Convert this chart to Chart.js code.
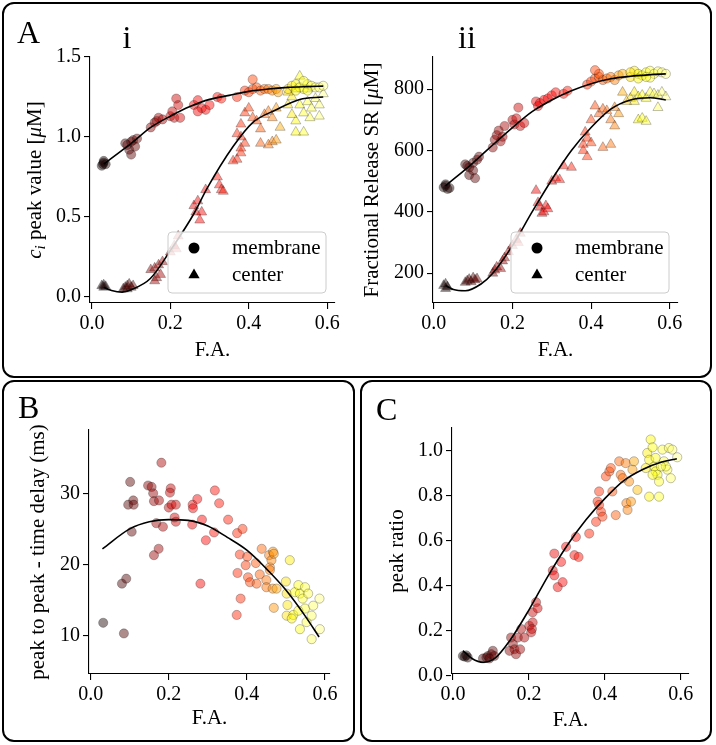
<!DOCTYPE html>
<html>
<head>
<meta charset="utf-8">
<script src="https://cdn.jsdelivr.net/npm/chart.js@4.4.1/dist/chart.umd.min.js"></script>
<style>
  html, body { margin: 0; padding: 0; background: #fff; }
  #fig { position: relative; width: 716px; height: 745px; overflow: hidden; background: #fff; }
  .box { position: absolute; box-sizing: border-box; border: 2.5px solid #000; border-radius: 12px; }
  canvas { position: absolute; }
</style>
</head>
<body>
<div id="fig">
  <div class="box" style="left:2px;top:2px;width:710px;height:376px"></div>
  <div class="box" style="left:2px;top:380px;width:353px;height:362px"></div>
  <div class="box" style="left:360px;top:380px;width:352px;height:362px"></div>
  <canvas id="chartAi" width="350" height="368" style="left:6px;top:6px"></canvas>
  <canvas id="chartAii" width="352" height="368" style="left:356px;top:6px"></canvas>
  <canvas id="chartB" width="346" height="353" style="left:6px;top:385px"></canvas>
  <canvas id="chartC" width="344" height="353" style="left:364px;top:385px"></canvas>
</div>
<script>
/* ---------------- data ---------------- */
const xTicks = [0.0, 0.2, 0.4, 0.6];
const yTicksAi = [0.0, 0.5, 1.0, 1.5];
const yTicksAii = [200, 400, 600, 800];
const yTicksB = [10, 20, 30];
const yTicksC = [0.0, 0.2, 0.4, 0.6, 0.8, 1.0];

// A i : c_i peak value, membrane (circles) / center (triangles)
const memAi = [
  [0.025,0.82],[0.03,0.84],[0.035,0.83],[0.03,0.85],[0.028,0.83],
  [0.085,0.96],[0.09,0.95],[0.095,0.92],[0.1,0.97],[0.105,0.98],[0.1,0.89],[0.11,0.94],[0.115,0.99],
  [0.15,1.06],[0.16,1.09],[0.165,1.1],[0.17,1.12],[0.18,1.11],[0.2,1.13],[0.205,1.16],[0.21,1.12],[0.22,1.2],[0.215,1.24],[0.225,1.12],
  [0.26,1.2],[0.27,1.23],[0.28,1.18],[0.29,1.17],[0.3,1.2],[0.27,1.16],
  [0.32,1.25],[0.33,1.24],[0.37,1.25],
  [0.39,1.29],[0.4,1.28],[0.41,1.3],[0.42,1.31],[0.43,1.29],[0.44,1.3],[0.45,1.3],[0.46,1.29],[0.47,1.3],[0.475,1.28],[0.41,1.36],
  [0.5,1.3],[0.51,1.32],[0.52,1.33],[0.53,1.31],[0.54,1.3],[0.55,1.33],[0.56,1.32],[0.57,1.31],[0.58,1.31],[0.59,1.32],[0.52,1.29],[0.55,1.29],[0.54,1.35]
];
const cenAi = [
  [0.025,0.07],[0.03,0.06],[0.035,0.065],[0.03,0.075],
  [0.08,0.05],[0.085,0.06],[0.09,0.07],[0.095,0.08],[0.1,0.06],[0.105,0.07],[0.09,0.05],
  [0.15,0.17],[0.16,0.18],[0.165,0.12],[0.17,0.2],[0.175,0.14],[0.16,0.1],[0.18,0.22],
  [0.2,0.28],[0.21,0.32],[0.22,0.38],[0.215,0.3],
  [0.26,0.57],[0.265,0.53],[0.27,0.6],[0.275,0.48],[0.28,0.53],[0.29,0.67],
  [0.32,0.75],[0.325,0.7],[0.33,0.67],[0.335,0.66],
  [0.37,0.86],[0.38,0.9],[0.38,0.93],[0.39,0.96],[0.38,1.0],[0.37,1.02],[0.36,0.85],
  [0.38,1.08],[0.39,1.15],[0.4,1.18],[0.41,1.12],
  [0.42,1.1],[0.43,1.05],[0.44,1.14],[0.45,1.16],[0.46,1.12],[0.47,1.18],[0.46,0.97],[0.47,0.98],[0.45,0.95],[0.43,0.96],[0.48,1.06],
  [0.5,1.2],[0.51,1.25],[0.52,1.3],[0.53,1.38],[0.53,1.2],[0.54,1.15],[0.55,1.22],[0.56,1.18],[0.57,1.24],[0.58,1.2],
  [0.58,1.13],[0.52,1.03],[0.54,1.03],[0.5,1.28],[0.55,1.3],[0.59,1.27],[0.52,1.1],[0.556,1.12],[0.51,1.14]
];
const fitMemAiX = [0.03, 0.046, 0.1, 0.15, 0.2, 0.25, 0.3, 0.35, 0.4, 0.45, 0.5, 0.55, 0.59];
const fitMemAiY = [0.83, 0.86, 0.96, 1.06, 1.13, 1.19, 1.235, 1.26, 1.285, 1.3, 1.31, 1.315, 1.318];
const fitCenAiX = [0.03, 0.05, 0.077, 0.1, 0.149, 0.2, 0.26, 0.294, 0.36, 0.41, 0.47, 0.53, 0.59];
const fitCenAiY = [0.06, 0.04, 0.03, 0.045, 0.115, 0.29, 0.52, 0.68, 0.94, 1.09, 1.17, 1.234, 1.25];

// A ii : fractional release SR
const memAii = [
  [0.025,480],[0.03,490],[0.035,475],[0.03,485],[0.04,478],
  [0.08,555],[0.085,550],[0.09,545],[0.09,520],[0.1,560],[0.1,535],[0.105,510],[0.11,570],[0.115,580],
  [0.15,610],[0.155,635],[0.16,650],[0.165,665],[0.17,630],[0.175,645],[0.18,680],[0.2,700],[0.205,685],[0.21,705],[0.215,740],[0.22,680],[0.23,690],
  [0.26,760],[0.265,745],[0.27,755],[0.28,765],[0.29,770],
  [0.3,780],[0.31,790],[0.33,785],[0.34,795],
  [0.39,815],[0.4,825],[0.41,835],[0.42,840],[0.43,830],[0.44,835],[0.45,840],[0.46,830],[0.47,845],[0.48,850],[0.42,850],[0.41,862],
  [0.5,840],[0.51,860],[0.52,850],[0.53,845],[0.54,855],[0.55,860],[0.56,850],[0.57,858],[0.58,855],[0.59,850],[0.52,835],[0.55,838],[0.5,855],[0.54,840]
];
const cenAii = [
  [0.025,160],[0.03,150],[0.035,155],[0.03,165],
  [0.08,170],[0.085,175],[0.09,180],[0.095,172],[0.1,185],[0.105,178],[0.11,182],
  [0.15,200],[0.155,210],[0.16,220],[0.17,215],[0.175,240],[0.18,250],
  [0.19,270],[0.2,290],[0.21,310],[0.22,330],[0.215,300],
  [0.26,470],[0.265,430],[0.27,415],[0.275,395],[0.28,400],[0.285,420],[0.29,410],
  [0.3,500],[0.31,510],[0.32,505],[0.33,550],[0.35,545],
  [0.38,600],[0.38,620],[0.39,640],[0.385,660],[0.4,625],[0.39,580],
  [0.4,700],[0.41,745],[0.42,720],[0.43,735],[0.44,730],[0.45,700],[0.46,680],[0.45,620],[0.43,610],[0.47,720],[0.46,740],[0.48,790],
  [0.5,770],[0.51,790],[0.52,775],[0.53,780],[0.54,770],[0.55,790],[0.56,785],[0.57,780],[0.58,790],[0.59,775],
  [0.52,700],[0.53,705],[0.54,695],[0.51,760],[0.57,740],[0.49,760]
];
const fitMemAiiX = [0.03, 0.1, 0.136, 0.2, 0.25, 0.3, 0.35, 0.4, 0.45, 0.5, 0.55, 0.59];
const fitMemAiiY = [485, 560, 602, 675, 727, 765, 795, 818, 834, 842, 847, 850];
const fitCenAiiX = [0.03, 0.05, 0.08, 0.12, 0.15, 0.2, 0.25, 0.3, 0.35, 0.4, 0.45, 0.5, 0.55, 0.59];
const fitCenAiiY = [160, 147, 143, 165, 200, 290, 400, 505, 600, 675, 735, 765, 772, 765];

// B : peak to peak time delay (ms)
const ptsB = [
  [0.032,11.8],[0.085,10.3],[0.08,17.3],[0.091,18.0],[0.101,31.6],[0.096,28.4],[0.109,29.0],[0.11,28.4],[0.105,24.6],
  [0.147,31.1],[0.156,30.9],[0.16,30.0],[0.162,28.9],[0.175,29.0],[0.181,34.3],[0.168,25.8],[0.185,25.3],[0.162,21.3],[0.174,22.2],
  [0.205,30.7],[0.203,30.1],[0.2,28.0],[0.207,28.4],[0.218,28.4],[0.215,26.6],[0.218,26.0],
  [0.261,28.4],[0.262,27.9],[0.273,29.2],[0.26,25.6],[0.285,26.3],[0.295,23.4],[0.281,17.3],
  [0.318,30.4],[0.329,28.6],[0.316,24.5],[0.352,26.3],
  [0.375,24.4],[0.389,25.0],[0.382,21.4],[0.376,18.8],[0.384,15.2],[0.374,12.9],
  [0.401,21.1],[0.397,19.9],[0.403,18.2],[0.408,17.5],[0.423,20.2],[0.438,22.2],[0.433,18.6],[0.425,17.3],
  [0.45,17.8],[0.457,21.3],[0.459,19.6],[0.463,20.6],[0.467,21.8],[0.469,21.5],[0.45,16.8],[0.466,16.6],[0.476,16.6],[0.469,13.9],[0.459,19.2],
  [0.5,17.6],[0.51,20.6],[0.502,15.9],[0.504,14.3],[0.502,12.8],[0.519,12.9],[0.523,16.1],[0.532,17.1],[0.536,15.9],
  [0.549,16.8],[0.543,15.2],[0.557,15.9],[0.549,13.8],[0.553,11.9],[0.566,12.8],[0.536,10.9],[0.566,9.5],[0.587,10.9],
  [0.586,15.2],[0.57,14.2],[0.515,12.4],[0.532,13.5]
];
const fitBX = [0.03, 0.1, 0.15, 0.2, 0.25, 0.3, 0.35, 0.4, 0.45, 0.5, 0.55, 0.585];
const fitBY = [22.2, 25.0, 26.0, 26.3, 26.2, 25.4, 23.8, 22.0, 19.4, 16.4, 12.7, 9.8];

// C : peak ratio
const ptsC = [
  [0.031,0.083],[0.035,0.089],[0.039,0.079],[0.026,0.086],
  [0.079,0.075],[0.088,0.079],[0.092,0.086],[0.101,0.094],[0.105,0.109],[0.096,0.075],[0.109,0.086],
  [0.153,0.168],[0.158,0.139],[0.162,0.116],[0.166,0.094],[0.171,0.168],[0.177,0.116],[0.18,0.206],[0.149,0.109],[0.188,0.168],
  [0.201,0.22],[0.206,0.191],[0.21,0.235],[0.21,0.28],[0.219,0.325],[0.223,0.298],[0.208,0.206],
  [0.267,0.541],[0.263,0.466],[0.267,0.444],[0.276,0.392],[0.289,0.414],[0.285,0.504],[0.298,0.571],[0.32,0.534],[0.324,0.615],[0.331,0.526],[0.359,0.63],
  [0.377,0.682],[0.381,0.772],[0.385,0.817],[0.39,0.727],[0.394,0.705],[0.385,0.757],
  [0.403,0.884],[0.412,0.906],[0.416,0.921],[0.429,0.712],[0.438,0.951],[0.442,0.891],[0.455,0.943],[0.457,0.765],[0.46,0.735],
  [0.469,0.772],[0.473,0.914],[0.477,0.951],[0.486,0.824],[0.464,0.861],[0.42,0.817],[0.447,0.876],
  [0.512,0.988],[0.517,0.958],[0.521,1.048],[0.526,1.013],[0.53,0.928],[0.534,0.906],[0.539,0.891],[0.543,0.861],[0.517,0.794],[0.543,0.794],
  [0.552,1.003],[0.556,0.951],[0.565,0.914],[0.569,1.01],[0.574,0.876],[0.578,1.003],[0.591,0.969],[0.508,0.921],[0.526,0.891],[0.561,0.928],[0.534,0.966],[0.548,0.928]
];
const fitCX = [0.026, 0.05, 0.08, 0.11, 0.15, 0.2, 0.25, 0.3, 0.35, 0.4, 0.45, 0.5, 0.55, 0.59];
const fitCY = [0.11, 0.075, 0.058, 0.075, 0.155, 0.29, 0.44, 0.575, 0.69, 0.785, 0.865, 0.915, 0.948, 0.962];

/* ---------------- colour map (hot, by F.A.) ---------------- */
const cmapX = [0.03, 0.1, 0.17, 0.22, 0.3, 0.38, 0.42, 0.46, 0.5, 0.55, 0.59];
const cmapT = [0.02, 0.12, 0.22, 0.3, 0.37, 0.42, 0.48, 0.55, 0.7, 0.8, 0.88];

function hot(t) {
  const c = v => Math.max(0, Math.min(1, v));
  const r = c(0.0416 + t / 0.365079 * 0.9584);
  const g = c((t - 0.365079) / (0.746032 - 0.365079));
  const b = c((t - 0.746032) / (1 - 0.746032));
  return [r, g, b].map(v => Math.round(v * 255));
}
function tFor(x) {
  if (x <= cmapX[0]) return cmapT[0];
  for (let i = 1; i < cmapX.length; i++) {
    if (x <= cmapX[i]) {
      const f = (x - cmapX[i - 1]) / (cmapX[i] - cmapX[i - 1]);
      return cmapT[i - 1] + f * (cmapT[i] - cmapT[i - 1]);
    }
  }
  return cmapT[cmapT.length - 1];
}
function fillFor(x) {
  const [r, g, b] = hot(tFor(x));
  return `rgba(${r},${g},${b},0.45)`;
}

/* ---------------- helpers ---------------- */
const FONT = "'Liberation Serif', 'DejaVu Serif', serif";
Chart.defaults.font.family = FONT;
Chart.defaults.color = '#000';

function scatterSet(points, style, radius) {
  return {
    type: 'scatter',
    data: points.map(p => ({ x: p[0], y: p[1] })),
    pointStyle: style,
    pointRadius: radius,
    backgroundColor: points.map(p => fillFor(p[0])),
    borderColor: 'rgba(0,0,0,0.35)',
    borderWidth: 0.7,
    clip: false,
    order: 1
  };
}
function fitSet(xs, ys) {
  return {
    type: 'line',
    data: xs.map((x, i) => ({ x: x, y: ys[i] })),
    borderColor: '#000',
    borderWidth: 1.6,
    pointRadius: 0,
    fill: false,
    cubicInterpolationMode: 'monotone',
    clip: false,
    order: 0
  };
}

function axis(o) {
  return {
    type: 'linear',
    min: o.min,
    max: o.max,
    afterBuildTicks: s => { s.ticks = o.ticks.map(v => ({ value: v })); },
    afterFit: s => { if (s.isHorizontal()) s.height = o.size; else s.width = o.size; },
    ticks: { font: { size: 20 }, padding: 3, autoSkip: false, maxRotation: 0, callback: o.fmt },
    grid: { drawOnChartArea: false, drawTicks: true, tickLength: 6, color: '#000', lineWidth: 1.1 },
    border: { display: true, color: '#000', width: 1.1 },
    title: o.title
      ? { display: true, text: o.title, font: { size: 21 }, padding: o.titlePad }
      : { display: false }
  };
}

// legend box with black markers
const markerLegend = {
  id: 'markerLegend',
  afterDatasetsDraw(chart, args, opts) {
    if (!opts || !opts.show) return;
    const a = chart.chartArea, ctx = chart.ctx;
    const w = 158, h = 61;
    const x = a.right - 9 - w, y = a.bottom - 10 - h, r = 4;
    ctx.save();
    ctx.beginPath();
    ctx.moveTo(x + r, y);
    ctx.arcTo(x + w, y, x + w, y + h, r);
    ctx.arcTo(x + w, y + h, x, y + h, r);
    ctx.arcTo(x, y + h, x, y, r);
    ctx.arcTo(x, y, x + w, y, r);
    ctx.closePath();
    ctx.fillStyle = 'rgba(255,255,255,0.8)';
    ctx.fill();
    ctx.strokeStyle = '#cccccc';
    ctx.lineWidth = 1;
    ctx.stroke();
    ctx.fillStyle = '#000';
    ctx.beginPath();
    ctx.arc(x + 26, y + 16, 5.5, 0, Math.PI * 2);
    ctx.fill();
    const tx = x + 26, ty = y + 43, tr = 6.5;
    ctx.beginPath();
    ctx.moveTo(tx, ty - tr);
    ctx.lineTo(tx + tr * 0.866, ty + tr * 0.5);
    ctx.lineTo(tx - tr * 0.866, ty + tr * 0.5);
    ctx.closePath();
    ctx.fill();
    ctx.font = '21px ' + FONT;
    ctx.textBaseline = 'middle';
    ctx.textAlign = 'left';
    ctx.fillText(opts.labels[0], x + 64, y + 16);
    ctx.fillText(opts.labels[1], x + 64, y + 43);
    ctx.restore();
  }
};

// rotated y title made of upright / italic / subscript pieces
const richYTitle = {
  id: 'richYTitle',
  afterDraw(chart, args, opts) {
    if (!opts || !opts.parts) return;
    const ctx = chart.ctx, a = chart.chartArea;
    const fontOf = p => (p.it ? 'italic ' : '') + (p.sub ? 15 : 21) + 'px ' + FONT;
    let total = 0;
    opts.parts.forEach(p => { ctx.font = fontOf(p); total += ctx.measureText(p.t).width; });
    ctx.save();
    ctx.translate(opts.x, (a.top + a.bottom) / 2);
    ctx.rotate(-Math.PI / 2);
    ctx.fillStyle = '#000';
    ctx.textBaseline = 'alphabetic';
    ctx.textAlign = 'left';
    let cx = -total / 2;
    opts.parts.forEach(p => {
      ctx.font = fontOf(p);
      ctx.fillText(p.t, cx, 7 + (p.sub ? 4 : 0));
      cx += ctx.measureText(p.t).width;
    });
    ctx.restore();
  }
};

// panel letters and sub-panel numerals
const panelText = {
  id: 'panelText',
  afterDraw(chart, args, opts) {
    if (!opts || !opts.items) return;
    const ctx = chart.ctx;
    ctx.save();
    ctx.fillStyle = '#000';
    ctx.textBaseline = 'alphabetic';
    opts.items.forEach(it => {
      ctx.font = '32px ' + FONT;
      ctx.textAlign = it.align || 'left';
      ctx.fillText(it.text, it.x, it.y);
    });
    ctx.restore();
  }
};

function panel(id, o) {
  return new Chart(document.getElementById(id), {
    type: 'scatter',
    data: { datasets: o.datasets },
    options: {
      responsive: false,
      animation: false,
      devicePixelRatio: 1,
      events: [],
      layout: { padding: { left: 0, top: o.padTop, right: o.padRight, bottom: 0 } },
      plugins: {
        legend: { display: false },
        tooltip: { enabled: false },
        markerLegend: o.legend || {},
        richYTitle: o.rich || {},
        panelText: { items: o.letters }
      },
      scales: { x: axis(o.x), y: axis(o.y) }
    },
    plugins: [markerLegend, richYTitle, panelText]
  });
}

const fmt1 = v => v.toFixed(1);
const fmt0 = v => String(v);

/* ---------------- A i ---------------- */
panel('chartAi', {
  padTop: 51, padRight: 21,
  datasets: [
    fitSet(fitMemAiX, fitMemAiY), fitSet(fitCenAiX, fitCenAiY),
    scatterSet(memAi, 'circle', 4.6), scatterSet(cenAi, 'triangle', 5.8)
  ],
  x: { min: -0.005, max: 0.62, ticks: xTicks, fmt: fmt1, size: 71, title: 'F.A.', titlePad: { top: 0, bottom: 11 } },
  y: { min: -0.038, max: 1.5, ticks: yTicksAi, fmt: fmt1, size: 84 },
  legend: { show: true, labels: ['membrane', 'center'] },
  rich: { x: 28, parts: [
    { t: 'c', it: true }, { t: 'i', it: true, sub: true }, { t: ' peak value [' },
    { t: 'μ', it: true }, { t: 'M]' }
  ] },
  letters: [{ text: 'A', x: 11, y: 37 }, { text: 'i', x: 121, y: 42, align: 'center' }]
});

/* ---------------- A ii ---------------- */
panel('chartAii', {
  padTop: 51, padRight: 30,
  datasets: [
    fitSet(fitMemAiiX, fitMemAiiY), fitSet(fitCenAiiX, fitCenAiiY),
    scatterSet(memAii, 'circle', 4.6), scatterSet(cenAii, 'triangle', 5.8)
  ],
  x: { min: -0.002, max: 0.621, ticks: xTicks, fmt: fmt1, size: 71, title: 'F.A.', titlePad: { top: 0, bottom: 11 } },
  y: { min: 103, max: 905, ticks: yTicksAii, fmt: fmt0, size: 77 },
  legend: { show: true, labels: ['membrane', 'center'] },
  rich: { x: 15, parts: [{ t: 'Fractional Release SR [' }, { t: 'μ', it: true }, { t: 'M]' }] },
  letters: [{ text: 'ii', x: 111, y: 42, align: 'center' }]
});

/* ---------------- B ---------------- */
panel('chartB', {
  padTop: 45, padRight: 22,
  datasets: [fitSet(fitBX, fitBY), scatterSet(ptsB, 'circle', 4.6)],
  x: { min: -0.0044, max: 0.613, ticks: xTicks, fmt: fmt1, size: 64, title: 'F.A.', titlePad: { top: 0, bottom: 7 } },
  y: { min: 4.6, max: 38.9, ticks: yTicksB, fmt: fmt0, size: 83, title: 'peak to peak - time delay (ms)', titlePad: { top: 20, bottom: 0 } },
  letters: [{ text: 'B', x: 12, y: 33 }]
});

/* ---------------- C ---------------- */
panel('chartC', {
  padTop: 43, padRight: 19,
  datasets: [fitSet(fitCX, fitCY), scatterSet(ptsC, 'circle', 4.6)],
  x: { min: -0.0026, max: 0.622, ticks: xTicks, fmt: fmt1, size: 64, title: 'F.A.', titlePad: { top: 0, bottom: 5 } },
  y: { min: 0.006, max: 1.099, ticks: yTicksC, fmt: fmt1, size: 88, title: 'peak ratio', titlePad: { top: 21, bottom: 0 } },
  letters: [{ text: 'C', x: 12, y: 35 }]
});
</script>
</body>
</html>
